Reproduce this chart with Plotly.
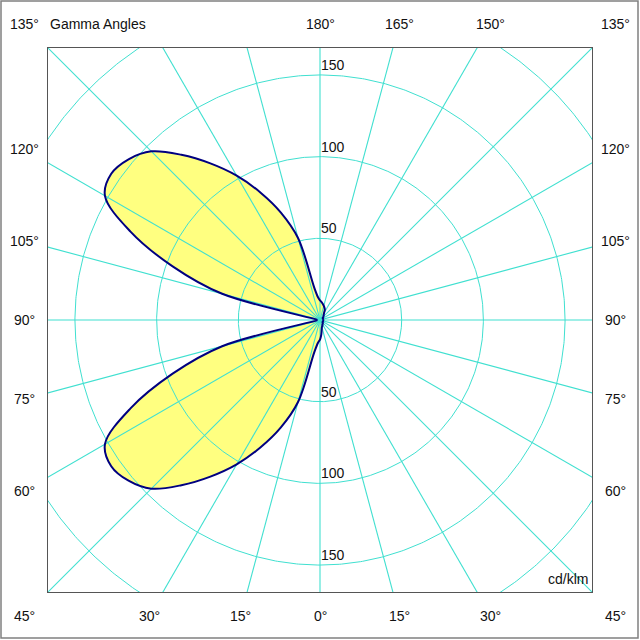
import numpy as np
import plotly.graph_objects as go

# ---- data (cd/klm) -------------------------------------------------------
gamma = [0, 5, 10, 15, 20, 25, 30, 35, 40, 45, 50, 55, 60, 65, 70, 75, 80, 85, 90,
         95, 100, 105, 110, 115, 120, 125, 130, 135, 140, 145, 150, 155, 160, 165,
         170, 175, 180]
# C-plane drawn on the left half of the diagram
i_left = [12, 14, 20, 52, 70, 86, 102, 117, 132, 146, 153, 156, 152, 128, 96, 62, 3, 2, 2,
          2, 3, 62, 96, 128, 152, 156, 153, 146, 132, 117, 102, 86, 70, 52,
          20, 14, 12]
# opposite C-plane drawn on the right half
i_right = [12, 9, 6, 4.5, 4, 3.5, 3, 3, 2.5, 2.5, 2, 2, 2, 2, 2, 2, 2, 2, 2,
           2, 2, 2, 2, 2, 2, 2, 2.5, 3, 3.5, 4, 5, 7, 8, 9,
           10, 11, 12]

grid_radii = [50, 100, 150, 200]
radius_labels = [50, 100, 150]
spoke_step = 15
labels_left = [135, 120, 105, 90, 75, 60, 45, 30, 15]
labels_right = [180, 165, 150, 135, 120, 105, 90, 75, 60, 45, 30, 15, 0]
title_text = "Gamma Angles"
unit_text = "cd/klm"

# ---- styling --------------------------------------------------------------
R = 166.5            # half range of the square plot (cd/klm)
LABEL_R = 181        # distance of border labels
GRID = "#40E0D0"
CURVE = "#000080"
FILL = "#FFFF80"
FONT = dict(family="Arial, Liberation Sans, sans-serif", size=14, color="#111111")

g = np.radians(np.array(gamma, dtype=float))
il = np.array(i_left, dtype=float)
ir = np.array(i_right, dtype=float)
x_curve = np.concatenate([-il * np.sin(g), (ir * np.sin(g))[::-1]])
y_curve = np.concatenate([-il * np.cos(g), (-ir * np.cos(g))[::-1]])

fig = go.Figure()

# filled area
fig.add_trace(go.Scatter(x=x_curve, y=y_curve, mode="lines", fill="toself",
                         fillcolor=FILL, line=dict(width=0, color=FILL, shape="spline", smoothing=1.0),
                         hoverinfo="skip", showlegend=False))

# grid circles
t = np.linspace(0, 2 * np.pi, 721)
for r in grid_radii:
    fig.add_trace(go.Scatter(x=r * np.cos(t), y=r * np.sin(t), mode="lines",
                             line=dict(color=GRID, width=1), hoverinfo="skip", showlegend=False))

# spokes
for a in range(0, 180, spoke_step):
    ar = np.radians(a)
    fig.add_trace(go.Scatter(x=[-240 * np.sin(ar), 240 * np.sin(ar)],
                             y=[240 * np.cos(ar), -240 * np.cos(ar)], mode="lines",
                             line=dict(color=GRID, width=1.1), hoverinfo="skip", showlegend=False))

# curve outline
fig.add_trace(go.Scatter(x=x_curve, y=y_curve, mode="lines",
                         line=dict(color=CURVE, width=2, shape="spline", smoothing=1.0),
                         hoverinfo="skip", showlegend=False))


def to_paper(v):
    return (v + R) / (2 * R)


ann = []
# radius labels (above circle lines, top and bottom)
for r in radius_labels:
    for yy in (r, -r):
        ann.append(dict(x=to_paper(0), y=to_paper(yy), xref="paper", yref="paper", text=str(r),
                        showarrow=False, xanchor="left", yanchor="bottom", font=FONT, xshift=-1))


def border_pos(gam, side):
    a = np.radians(gam)
    dx, dy = side * np.sin(a), -np.cos(a)
    s = LABEL_R / max(abs(dx), abs(dy))
    return dx * s, dy * s


for side, lst in ((-1, labels_left), (1, labels_right)):
    for gam in lst:
        x, y = border_pos(gam, side)
        ann.append(dict(x=to_paper(x), y=to_paper(y), xref="paper", yref="paper", text=f"{gam}°",
                        showarrow=False, xanchor="center", yanchor="middle", font=FONT))

ann.append(dict(x=to_paper(-R), y=to_paper(LABEL_R), xref="paper", yref="paper", text=title_text,
                showarrow=False, xanchor="left", yanchor="middle", font=FONT))
ann.append(dict(x=1, y=0, xref="paper", yref="paper", text=unit_text, showarrow=False,
                xanchor="right", yanchor="bottom", font=FONT, xshift=-2, yshift=3))

axis = dict(range=[-R, R], showgrid=False, zeroline=False, showticklabels=False,
            ticks="", showline=True, mirror=True, linecolor="#555555", linewidth=1,
            fixedrange=True, showspikes=False)

fig.update_layout(
    width=640, height=640,
    margin=dict(l=48, r=48, t=48, b=48),
    paper_bgcolor="white", plot_bgcolor="white",
    xaxis=axis, yaxis=axis,
    annotations=ann,
    showlegend=False,
    hovermode=False,
    dragmode=False,
    shapes=[dict(type="rect", xref="paper", yref="paper",
                 x0=(1 - 48) / 544, x1=(638 - 48) / 544,
                 y0=(592 - 638) / 544, y1=(592 - 1) / 544,
                 line=dict(color="#808080", width=1.5))],
)

fig.write_html("out.html", config={"displayModeBar": False, "staticPlot": True},
               post_script="document.body.style.margin='0px';")
